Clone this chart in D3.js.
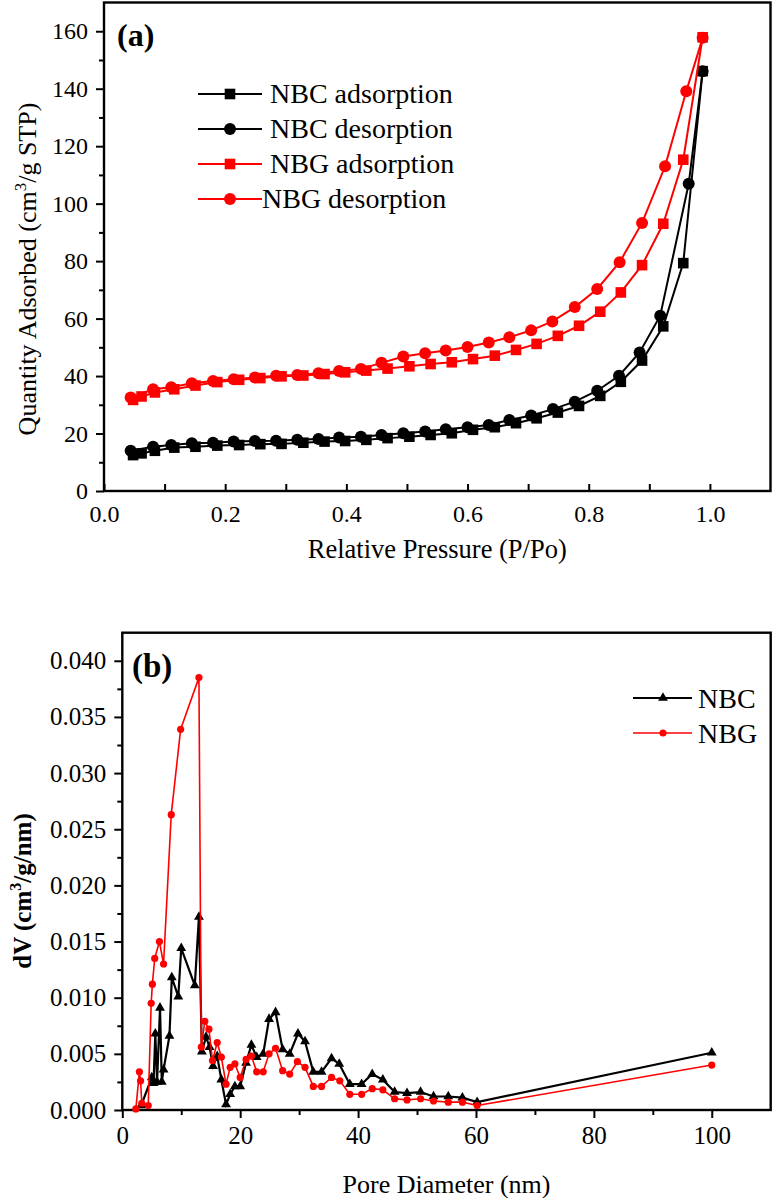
<!DOCTYPE html>
<html>
<head>
<meta charset="utf-8">
<script src="https://cdn.jsdelivr.net/npm/d3@7"></script>
<style>
  html, body { margin: 0; padding: 0; background: #fff; }
  svg { display: block; }
  text { font-family: "Liberation Serif", "Times New Roman", serif; fill: #000; }
</style>
</head>
<body>
<svg id="chart" width="774" height="1198"></svg>
<script>
// ---------- Panel (a): N2 adsorption/desorption isotherms ----------
const isoAdsX = [0.048, 0.062, 0.084, 0.116, 0.151, 0.187, 0.223, 0.258, 0.293, 0.329, 0.364, 0.398, 0.433, 0.468, 0.504, 0.539, 0.574, 0.609, 0.645, 0.680, 0.714, 0.749, 0.784, 0.819, 0.853, 0.888, 0.923, 0.956, 0.988];
const nbcAds = [12.5, 13.1, 14.0, 15.1, 15.4, 15.8, 16.0, 16.3, 16.4, 16.8, 17.2, 17.4, 17.8, 18.4, 18.9, 19.5, 20.1, 21.3, 22.2, 23.6, 25.3, 27.3, 29.6, 33.1, 38.0, 45.4, 57.3, 79.3, 146.1];
const nbgAds = [31.7, 32.9, 34.3, 35.4, 36.7, 37.9, 38.7, 39.3, 39.9, 40.2, 40.7, 41.3, 41.9, 42.6, 43.4, 44.2, 44.8, 45.9, 47.1, 49.1, 51.2, 54.0, 57.5, 62.4, 69.1, 78.6, 93.0, 115.3, 157.9];
const nbcDesX = [0.988, 0.965, 0.918, 0.884, 0.850, 0.814, 0.777, 0.741, 0.705, 0.669, 0.635, 0.600, 0.564, 0.530, 0.494, 0.458, 0.424, 0.388, 0.354, 0.319, 0.284, 0.249, 0.214, 0.180, 0.145, 0.111, 0.081, 0.044];
const nbcDes = [146.1, 106.9, 61.0, 48.2, 40.1, 34.9, 31.1, 28.5, 26.3, 24.7, 23.0, 22.2, 21.5, 20.7, 20.1, 19.5, 18.9, 18.6, 18.1, 17.8, 17.5, 17.4, 17.2, 16.8, 16.6, 16.0, 15.4, 14.0];
const nbgDesX = [0.988, 0.961, 0.926, 0.888, 0.851, 0.814, 0.777, 0.740, 0.705, 0.669, 0.635, 0.600, 0.564, 0.530, 0.494, 0.458, 0.424, 0.388, 0.354, 0.319, 0.284, 0.249, 0.214, 0.180, 0.145, 0.111, 0.081, 0.044];
const nbgDes = [157.7, 139.1, 113.0, 93.3, 79.6, 70.3, 64.0, 59.0, 55.9, 53.5, 51.7, 50.1, 48.9, 47.9, 46.8, 44.6, 42.5, 41.8, 41.0, 40.4, 40.1, 39.5, 38.9, 38.3, 37.5, 36.1, 35.4, 32.5];
const isoLegend = ["NBC adsorption", "NBC desorption", "NBG adsorption", "NBG desorption"];
const isoXTicks = [0.0, 0.2, 0.4, 0.6, 0.8, 1.0];
const isoYTicks = [0, 20, 40, 60, 80, 100, 120, 140, 160];

// ---------- Panel (b): pore size distribution ----------
const nbcPoreX = [3.2, 5.0, 5.3, 5.6, 5.9, 6.4, 6.7, 7.0, 8.0, 8.4, 9.5, 10.0, 12.3, 13.0, 13.5, 14.2, 14.8, 15.4, 16.1, 16.8, 17.6, 18.3, 19.1, 20.0, 21.0, 21.9, 22.8, 23.9, 24.9, 26.0, 27.2, 28.4, 29.8, 31.0, 32.4, 33.8, 35.5, 36.8, 38.6, 40.6, 42.4, 44.2, 46.2, 48.3, 50.6, 52.8, 55.3, 57.7, 60.2, 100];
const nbcPoreY = [0.0004, 0.0029, 0.0024, 0.0068, 0.0025, 0.0091, 0.0025, 0.0036, 0.0066, 0.0118, 0.0101, 0.0144, 0.0111, 0.0172, 0.0052, 0.0065, 0.0056, 0.0039, 0.0048, 0.0027, 0.0005, 0.0014, 0.0021, 0.0021, 0.0042, 0.0058, 0.0047, 0.0050, 0.0081, 0.0087, 0.0054, 0.0050, 0.0068, 0.0061, 0.0034, 0.0034, 0.0046, 0.0041, 0.0023, 0.0023, 0.0032, 0.0027, 0.0016, 0.0015, 0.0016, 0.0012, 0.0012, 0.0011, 0.0007, 0.0051];
const nbgPoreX = [2.3, 2.9, 3.1, 3.3, 4.4, 4.9, 5.1, 5.5, 6.3, 7.0, 8.3, 9.9, 13.0, 13.4, 14.0, 14.7, 15.3, 16.1, 16.8, 17.6, 18.3, 19.1, 20.0, 21.0, 21.9, 22.8, 23.9, 24.9, 26.0, 27.2, 28.4, 29.7, 31.0, 32.4, 33.8, 35.5, 36.9, 38.6, 40.6, 42.4, 44.2, 46.2, 48.3, 50.6, 52.8, 55.3, 57.7, 60.2, 100];
const nbgPoreY = [0.0001, 0.0034, 0.0026, 0.0006, 0.0004, 0.0095, 0.0112, 0.0135, 0.0150, 0.0130, 0.0263, 0.0339, 0.0385, 0.0056, 0.0079, 0.0072, 0.0044, 0.0060, 0.0047, 0.0023, 0.0038, 0.0041, 0.0029, 0.0045, 0.0048, 0.0034, 0.0034, 0.0050, 0.0055, 0.0035, 0.0032, 0.0043, 0.0038, 0.0021, 0.0021, 0.0029, 0.0026, 0.0014, 0.0014, 0.0019, 0.0018, 0.0010, 0.0009, 0.0010, 0.0008, 0.0007, 0.0007, 0.0004, 0.0040];
const poreLegend = ["NBC", "NBG"];
const poreXTicks = [0, 20, 40, 60, 80, 100];
const poreYTicks = [0.000, 0.005, 0.010, 0.015, 0.020, 0.025, 0.030, 0.035, 0.040];

const RED = "#ff0000", BLACK = "#000000";
const FONT = "'Liberation Serif', 'Times New Roman', serif";
const svg = d3.select("#chart").attr("font-family", FONT);

function zip(xs, ys) { return xs.map((x, i) => [x, ys[i]]); }

// ================= Panel (a) =================
{
  const L = 104, R = 770.5, T = 2.5, B = 491;
  const x = d3.scaleLinear().domain([0, 1.1]).range([L, R]);
  const y = d3.scaleLinear().domain([0, 170]).range([B, T]);
  const g = svg.append("g");

  // minor ticks
  g.append("g").attr("transform", `translate(0,${B})`)
    .call(d3.axisBottom(x).tickValues(d3.range(0.1, 1.1, 0.2)).tickSizeInner(-7).tickSizeOuter(0).tickFormat(""))
    .call(s => s.select(".domain").remove())
    .call(s => s.selectAll("line").attr("stroke-width", 2));
  g.append("g").attr("transform", `translate(${L},0)`)
    .call(d3.axisLeft(y).tickValues(d3.range(10, 170, 20)).tickSizeInner(5).tickSizeOuter(0).tickFormat(""))
    .call(s => s.select(".domain").remove())
    .call(s => s.selectAll("line").attr("stroke-width", 2));
  // major ticks
  g.append("g").attr("transform", `translate(0,${B})`)
    .call(d3.axisBottom(x).tickValues(isoXTicks).tickSizeInner(-7).tickSizeOuter(0).tickPadding(14).tickFormat(d3.format(".1f")))
    .call(s => s.select(".domain").remove())
    .call(s => s.selectAll("line").attr("stroke-width", 2))
    .call(s => s.selectAll("text").attr("font-size", 24).attr("fill", "#000"));
  g.append("g").attr("transform", `translate(${L},0)`)
    .call(d3.axisLeft(y).tickValues(isoYTicks).tickSizeInner(8).tickSizeOuter(0).tickPadding(8))
    .call(s => s.select(".domain").remove())
    .call(s => s.selectAll("line").attr("stroke-width", 2))
    .call(s => s.selectAll("text").attr("font-size", 24).attr("fill", "#000"));

  // frame
  g.append("rect").attr("x", L).attr("y", T).attr("width", R - L).attr("height", B - T)
    .attr("fill", "none").attr("stroke", "#000").attr("stroke-width", 2.4);

  const line = d3.line().x(d => x(d[0])).y(d => y(d[1]));
  const series = [
    { data: zip(isoAdsX, nbcAds), color: BLACK, shape: "square" },
    { data: zip(nbcDesX, nbcDes), color: BLACK, shape: "circle" },
    { data: zip(isoAdsX, nbgAds), color: RED, shape: "square" },
    { data: zip(nbgDesX, nbgDes), color: RED, shape: "circle" }
  ];
  function marker(sel, shape, color) {
    if (shape === "square") {
      sel.append("rect").attr("x", -5.3).attr("y", -5.3).attr("width", 10.6).attr("height", 10.6).attr("fill", color);
    } else {
      sel.append("circle").attr("r", 6).attr("fill", color);
    }
  }
  series.forEach(s => {
    g.append("path").datum(s.data).attr("d", line).attr("fill", "none")
      .attr("stroke", s.color).attr("stroke-width", 2);
    g.append("g").selectAll("g").data(s.data).join("g")
      .attr("transform", d => `translate(${x(d[0])},${y(d[1])})`)
      .each(function () { marker(d3.select(this), s.shape, s.color); });
  });

  // legend
  const legRows = [94, 129, 164, 199];
  isoLegend.forEach((name, i) => {
    const s = series[i];
    const lg = g.append("g");
    lg.append("line").attr("x1", 198).attr("x2", 262).attr("y1", legRows[i]).attr("y2", legRows[i])
      .attr("stroke", s.color).attr("stroke-width", 2);
    const m = lg.append("g").attr("transform", `translate(230,${legRows[i]})`);
    marker(m, s.shape, s.color);
    lg.append("text").attr("x", i === 3 ? 262 : 270).attr("y", legRows[i] + 9)
      .attr("font-size", 28).text(name);
  });

  // panel label
  g.append("text").attr("x", 117).attr("y", 46).attr("font-size", 32).attr("font-weight", "bold").text("(a)");

  // axis titles
  g.append("text").attr("x", (L + R) / 2).attr("y", 558).attr("text-anchor", "middle")
    .attr("font-size", 26.5).text("Relative Pressure (P/Po)");
  const yt = g.append("text").attr("transform", "translate(36,269) rotate(-90)")
    .attr("text-anchor", "middle").attr("font-size", 26);
  yt.append("tspan").text("Quantity Adsorbed (cm");
  yt.append("tspan").attr("font-size", 17).attr("dy", -10).text("3");
  yt.append("tspan").attr("dy", 10).text("/g STP)");
}

// ================= Panel (b) =================
{
  const L = 122.3, R = 770.7, T = 632.7, B = 1110;
  const x = d3.scaleLinear().domain([0, 110]).range([L, R]);
  const y = d3.scaleLinear().domain([0, 0.0425]).range([B, T]);
  const g = svg.append("g");

  g.append("g").attr("transform", `translate(0,${B})`)
    .call(d3.axisBottom(x).tickValues(d3.range(10, 110, 20)).tickSizeInner(5).tickSizeOuter(0).tickFormat(""))
    .call(s => s.select(".domain").remove())
    .call(s => s.selectAll("line").attr("stroke-width", 2));
  g.append("g").attr("transform", `translate(${L},0)`)
    .call(d3.axisLeft(y).tickValues(d3.range(0.0025, 0.042, 0.005)).tickSizeInner(5).tickSizeOuter(0).tickFormat(""))
    .call(s => s.select(".domain").remove())
    .call(s => s.selectAll("line").attr("stroke-width", 2));
  g.append("g").attr("transform", `translate(0,${B})`)
    .call(d3.axisBottom(x).tickValues(poreXTicks).tickSizeInner(8).tickSizeOuter(0).tickPadding(8).tickFormat(d3.format("d")))
    .call(s => s.select(".domain").remove())
    .call(s => s.selectAll("line").attr("stroke-width", 2))
    .call(s => s.selectAll("text").attr("font-size", 25).attr("fill", "#000"));
  g.append("g").attr("transform", `translate(${L},0)`)
    .call(d3.axisLeft(y).tickValues(poreYTicks).tickSizeInner(8).tickSizeOuter(0).tickPadding(8).tickFormat(d3.format(".3f")))
    .call(s => s.select(".domain").remove())
    .call(s => s.selectAll("line").attr("stroke-width", 2))
    .call(s => s.selectAll("text").attr("font-size", 25).attr("fill", "#000"));

  g.append("rect").attr("x", L).attr("y", T).attr("width", R - L).attr("height", B - T)
    .attr("fill", "none").attr("stroke", "#000").attr("stroke-width", 2.4);

  const line = d3.line().x(d => x(d[0])).y(d => y(d[1]));
  const tri = d3.symbol().type(d3.symbolTriangle).size(42);
  const series = [
    { data: zip(nbcPoreX, nbcPoreY), color: BLACK, shape: "tri", w: 2.2 },
    { data: zip(nbgPoreX, nbgPoreY), color: RED, shape: "circle", w: 1.6 }
  ];
  function marker(sel, shape, color) {
    if (shape === "tri") sel.append("path").attr("d", tri).attr("fill", color);
    else sel.append("circle").attr("r", 3.6).attr("fill", color);
  }
  series.forEach(s => {
    g.append("path").datum(s.data).attr("d", line).attr("fill", "none")
      .attr("stroke", s.color).attr("stroke-width", s.w).attr("stroke-linejoin", "miter");
    g.append("g").selectAll("g").data(s.data).join("g")
      .attr("transform", d => `translate(${x(d[0])},${y(d[1])})`)
      .each(function () { marker(d3.select(this), s.shape, s.color); });
  });

  const legRows = [698, 733];
  poreLegend.forEach((name, i) => {
    const s = series[i];
    const lg = g.append("g");
    lg.append("line").attr("x1", 633).attr("x2", 692).attr("y1", legRows[i]).attr("y2", legRows[i])
      .attr("stroke", s.color).attr("stroke-width", s.w);
    marker(lg.append("g").attr("transform", `translate(663,${legRows[i]})`), s.shape, s.color);
    lg.append("text").attr("x", 698).attr("y", legRows[i] + 10).attr("font-size", 28).text(name);
  });

  g.append("text").attr("x", 132).attr("y", 677).attr("font-size", 33).attr("font-weight", "bold").text("(b)");

  g.append("text").attr("x", (L + R) / 2).attr("y", 1193).attr("text-anchor", "middle")
    .attr("font-size", 26).text("Pore Diameter (nm)");
  const yt = g.append("text").attr("transform", "translate(31,891) rotate(-90)")
    .attr("text-anchor", "middle").attr("font-size", 25).attr("font-weight", "bold");
  yt.append("tspan").text("dV (cm");
  yt.append("tspan").attr("font-size", 16).attr("dy", -10).text("3");
  yt.append("tspan").attr("dy", 10).text("/g/nm)");
}

// make sure every label uses the serif face
svg.selectAll("text").attr("font-family", FONT).style("font-family", FONT);
</script>
</body>
</html>
